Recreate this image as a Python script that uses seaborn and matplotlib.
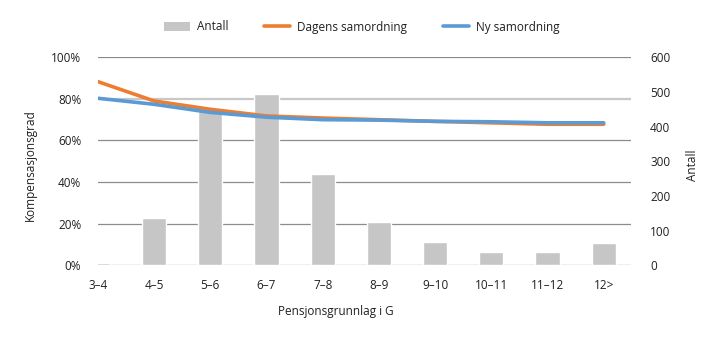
import numpy as np
import pandas as pd
import matplotlib
matplotlib.use("Agg")
import matplotlib.pyplot as plt
import seaborn as sns
from matplotlib.patches import Patch
from matplotlib.lines import Line2D

categories = ["3–4", "4–5", "5–6", "6–7", "7–8", "8–9", "9–10", "10–11", "11–12", "12>"]
antall = [6, 135, 451, 495, 263, 126, 67, 37, 37, 63]
dagens = [0.883, 0.790, 0.750, 0.718, 0.708, 0.700, 0.692, 0.685, 0.678, 0.678]
ny = [0.803, 0.774, 0.735, 0.712, 0.700, 0.698, 0.692, 0.690, 0.685, 0.685]
pct_ticks = [0, 0.2, 0.4, 0.6, 0.8, 1.0]
cnt_ticks = [0, 100, 200, 300, 400, 500, 600]

sns.set_theme(style="white")
plt.rcParams['font.family'] = ['Open Sans', 'DejaVu Sans']

bar_c = "#c6c6c6"
orange = "#ed7d31"
blue = "#5b9bd5"
txt = "#231f20"

fig = plt.figure(figsize=(7.2, 3.41), dpi=100)
ax = fig.add_axes([0.136, 0.222, 0.740, 0.610])

df_bar = pd.DataFrame({"kat": categories, "Antall": antall})
sns.barplot(data=df_bar, x="kat", y="Antall", order=categories, color=bar_c,
            width=0.43, saturation=1, ax=ax)
for p in ax.patches:
    p.set_zorder(3)
ax.set_ylim(0, 600)
ax.set_xlim(0, 9.48)

# grid lines at percentage positions
for p in pct_ticks:
    if abs(p - 0.8) < 1e-9:
        ax.axhline(p * 600, color="#c8c8c8", lw=1.6, zorder=1)
    else:
        ax.axhline(p * 600, color="#8c8c8c", lw=0.9, zorder=1)

ax2 = ax.twinx()
x = np.arange(len(categories))
df_line = pd.DataFrame({"x": np.concatenate([x, x]),
                        "v": dagens + ny,
                        "serie": ["Dagens samordning"] * len(x) + ["Ny samordning"] * len(x)})
sns.lineplot(data=df_line, x="x", y="v", hue="serie",
             palette={"Dagens samordning": orange, "Ny samordning": blue},
             lw=2.6, ax=ax2, legend=False)
ax2.set_ylim(0, 1)
ax2.set_xlim(0, 9.48)

# move axes: percentages on left, counts on right
ax.yaxis.tick_right()
ax.yaxis.set_label_position("right")
ax2.yaxis.tick_left()
ax2.yaxis.set_label_position("left")

ax.set_yticks(cnt_ticks)
ax.set_yticklabels([str(v) for v in cnt_ticks])
ax2.set_yticks(pct_ticks)
ax2.set_yticklabels([f"{int(round(p*100))}%" for p in pct_ticks])

for a in (ax, ax2):
    for s in a.spines.values():
        s.set_visible(False)
    a.tick_params(length=0, labelsize=8.5, colors=txt)
    a.grid(False)
    a.set_xlabel("")
    a.set_ylabel("")

ax.tick_params(axis="y", pad=14)
ax2.tick_params(axis="y", pad=12)
ax.tick_params(axis="x", pad=10)
ax2.set_xticks([])
ax.set_xticks(x)
ax.set_xticklabels(categories)

fig.text(30 / 720, 1 - 165 / 341, "Kompensasjonsgrad", rotation=90, ha="center", va="center",
         fontsize=8.5, color=txt)
fig.text(692 / 720, 1 - 165 / 341, "Antall", rotation=90, ha="center", va="center",
         fontsize=8.5, color=txt)
fig.text(336 / 720, 1 - 311 / 341, "Pensjonsgrunnlag i G", ha="center", va="center",
         fontsize=8.5, color=txt)

handles = [Patch(facecolor=bar_c, edgecolor="none"),
           Line2D([0], [0], color=orange, lw=2.6),
           Line2D([0], [0], color=blue, lw=2.6)]
labels = ["Antall", "Dagens samordning", "Ny samordning"]
fig.legend(handles, labels, loc="center", bbox_to_anchor=(362 / 720, 1 - 27 / 341), ncol=3,
           frameon=False, fontsize=8.5, handlelength=2.2, columnspacing=3.0,
           handletextpad=0.6, labelcolor=txt)

fig.savefig("out.png", dpi=100)
